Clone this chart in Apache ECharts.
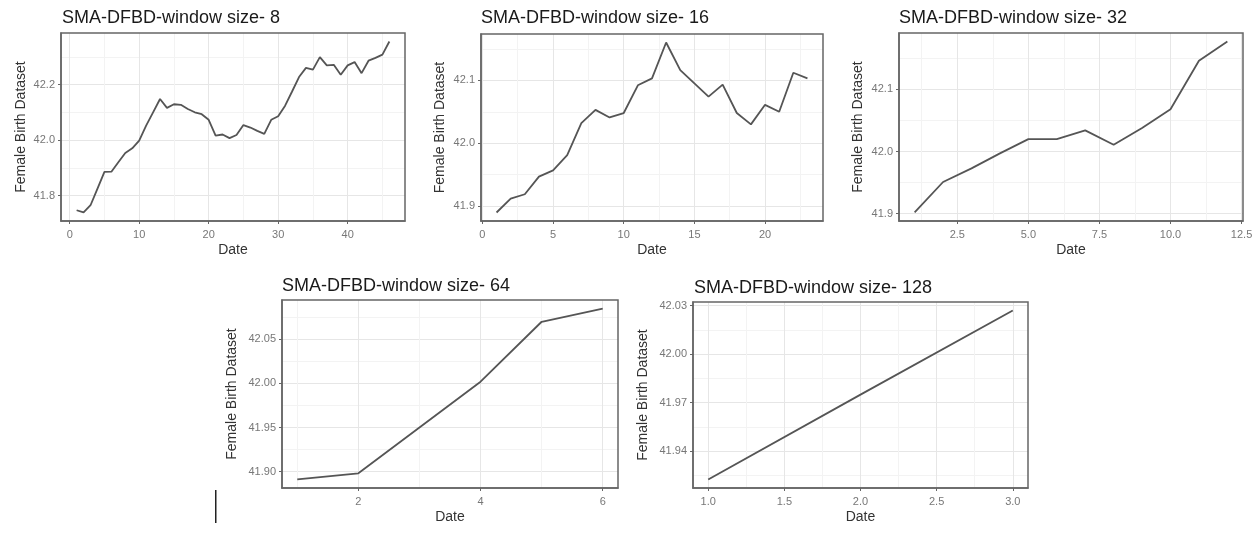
<!DOCTYPE html>
<html>
<head>
<meta charset="utf-8">
<script src="https://cdn.jsdelivr.net/npm/echarts@6/dist/echarts.min.js"></script>
<style>
html, body { margin: 0; padding: 0; background: #fff; }
#chart { width: 1256px; height: 533px; }
</style>
</head>
<body>
<div id="chart"></div>
<script>
// titles of the five panels
const panelTitles = [
    'SMA-DFBD-window size- 8',
    'SMA-DFBD-window size- 16',
    'SMA-DFBD-window size- 32',
    'SMA-DFBD-window size- 64',
    'SMA-DFBD-window size- 128'
];

// window size 8
const dates8 = [1, 2, 3, 4, 5, 6, 7, 8, 9, 10, 11, 12, 13, 14, 15, 16, 17, 18, 19, 20, 21, 22, 23,
    24, 25, 26, 27, 28, 29, 30, 31, 32, 33, 34, 35, 36, 37, 38, 39, 40, 41, 42, 43, 44, 45, 46];
const births8 = [41.747, 41.739, 41.765, 41.825, 41.885, 41.886, 41.92, 41.953, 41.97, 41.998,
    42.052, 42.10, 42.148, 42.116, 42.129, 42.127, 42.112, 42.10, 42.093, 42.073,
    42.016, 42.02, 42.007, 42.018, 42.054, 42.045, 42.033, 42.022, 42.073, 42.086,
    42.124, 42.175, 42.227, 42.26, 42.254, 42.299, 42.269, 42.271, 42.235, 42.269,
    42.281, 42.241, 42.286, 42.296, 42.308, 42.355];

// window size 16
const dates16 = [1, 2, 3, 4, 5, 6, 7, 8, 9, 10, 11, 12, 13, 14, 15, 16, 17, 18, 19, 20, 21, 22, 23];
const births16 = [41.89, 41.912, 41.919, 41.947, 41.957, 41.981, 42.032, 42.053, 42.041, 42.048,
    42.092, 42.103, 42.160, 42.116, 42.095, 42.074, 42.093, 42.048, 42.030, 42.061,
    42.050, 42.112, 42.103];

// window size 32
const dates32 = [1, 2, 3, 4, 5, 6, 7, 8, 9, 10, 11, 12];
const births32 = [41.902, 41.951, 41.973, 41.997, 42.020, 42.020, 42.034, 42.011, 42.038, 42.068, 42.146, 42.177];

// window size 64
const dates64 = [1, 2, 3, 4, 5, 6];
const births64 = [41.891, 41.898, 41.950, 42.002, 42.070, 42.085];

// window size 128
const dates128 = [1, 2, 3];
const births128 = [41.9225, 41.975, 42.027];

const xData = [dates8, dates16, dates32, dates64, dates128];
const yData = [births8, births16, births32, births64, births128];

// tick steps and label digits per panel
const xSteps = [10, 5, 2.5, 2, 0.5];
const xDigits = [0, 0, 1, 0, 1];
const ySteps = [0.2, 0.1, 0.1, 0.05, 0.03];
const yDigits = [1, 1, 1, 2, 2];

// layout
const grids = [
    {left: 61, top: 33, width: 344, height: 188},
    {left: 481, top: 34, width: 342, height: 187},
    {left: 899, top: 33, width: 344, height: 188},
    {left: 282, top: 300, width: 336, height: 188},
    {left: 693, top: 302, width: 335, height: 186}
];
const titlePos = [[62, 9], [481, 9], [899, 9], [282, 277], [694, 279]];
const yNameGaps = [33, 34, 34, 43, 43];

const FONT = '"Liberation Sans", Arial, sans-serif';

// ggplot style 5% expansion of the data range
function expandRange(arr) {
    const lo = Math.min.apply(null, arr);
    const hi = Math.max.apply(null, arr);
    const pad = (hi - lo) * 0.05;
    return [lo - pad, hi + pad];
}

function makeAxis(i, isX) {
    const range = expandRange(isX ? xData[i] : yData[i]);
    const step = isX ? xSteps[i] : ySteps[i];
    const digits = isX ? xDigits[i] : yDigits[i];
    return {
        type: 'value',
        gridIndex: i,
        min: range[0],
        max: range[1],
        minInterval: step,
        maxInterval: step,
        name: isX ? 'Date' : 'Female Birth Dataset',
        nameLocation: 'middle',
        nameGap: isX ? 22 : yNameGaps[i],
        nameTextStyle: {color: '#333', fontSize: 14, fontFamily: FONT},
        axisLine: {show: true, onZero: false, lineStyle: {color: '#666', width: 1.5}},
        axisTick: {show: true, length: 3, lineStyle: {color: '#666'}},
        minorTick: {show: false, splitNumber: 2},
        axisLabel: {
            color: '#777',
            fontSize: 11,
            fontFamily: FONT,
            margin: isX ? 8 : 6,
            showMinLabel: false,
            showMaxLabel: false,
            formatter: v => v.toFixed(digits)
        },
        splitLine: {show: true, showMinLine: false, showMaxLine: false, lineStyle: {color: '#e6e6e6', width: 1}},
        minorSplitLine: {show: true, lineStyle: {color: '#f3f3f3', width: 1}}
    };
}

const chart = echarts.init(document.getElementById('chart'));

const option = {
    backgroundColor: '#fff',
    animation: false,
    title: panelTitles.map((t, i) => ({
        text: t,
        left: titlePos[i][0],
        top: titlePos[i][1],
        padding: 0,
        textStyle: {color: '#1a1a1a', fontSize: 18, fontWeight: 'normal', fontFamily: FONT}
    })),
    grid: grids.map(g => Object.assign({
        show: true, z: 4, borderColor: '#666', borderWidth: 1.5, backgroundColor: 'transparent'
    }, g)),
    xAxis: panelTitles.map((t, i) => makeAxis(i, true)),
    yAxis: panelTitles.map((t, i) => makeAxis(i, false)),
    series: panelTitles.map((t, i) => ({
        type: 'line',
        xAxisIndex: i,
        yAxisIndex: i,
        data: xData[i].map((d, k) => [d, yData[i][k]]),
        showSymbol: false,
        lineStyle: {color: '#555', width: 1.8},
        z: 3
    })),
    // stray cursor mark seen in the source image
    graphic: [{
        type: 'rect',
        shape: {x: 215, y: 490, width: 1.5, height: 33},
        style: {fill: '#222'}
    }]
};

chart.setOption(option);
</script>
</body>
</html>
